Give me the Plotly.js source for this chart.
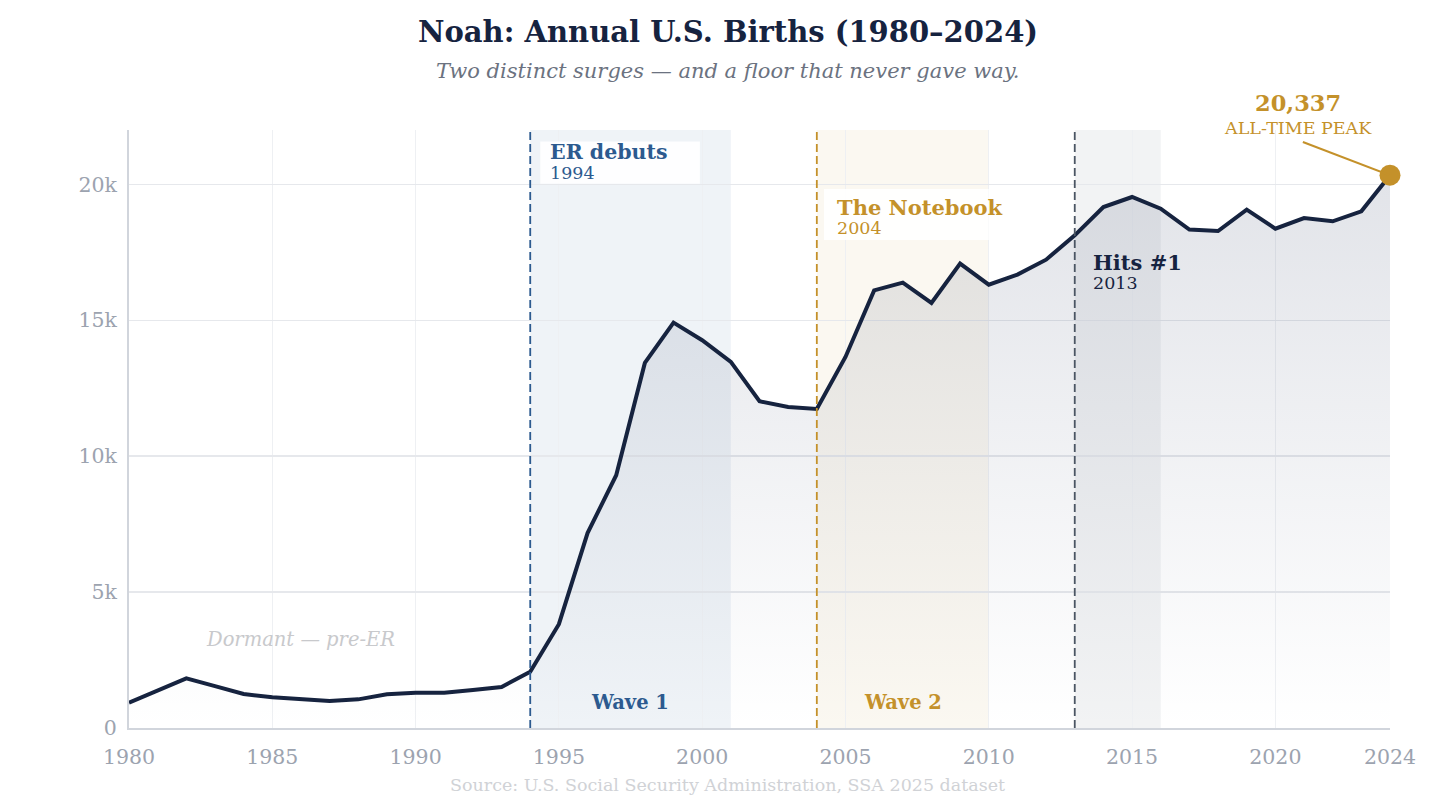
<!DOCTYPE html>
<html>
<head>
<meta charset="utf-8">
<script src="https://cdn.plot.ly/plotly-3.0.1.min.js"></script>
<style>
html,body{margin:0;padding:0;background:#fff;}
#chart{width:1456px;height:809px;}
</style>
</head>
<body>
<div id="chart"></div>
<script>
// ---- data ----
const years = [1980,1981,1982,1983,1984,1985,1986,1987,1988,1989,1990,1991,1992,1993,1994,1995,1996,1997,1998,1999,2000,2001,2002,2003,2004,2005,2006,2007,2008,2009,2010,2011,2012,2013,2014,2015,2016,2017,2018,2019,2020,2021,2022,2023,2024];
const births = [930,1380,1827,1540,1250,1128,1050,993,1054,1238,1299,1300,1400,1507,2070,3820,7170,9300,13430,14915,14265,13470,12020,11810,11740,13650,16100,16385,15640,17085,16310,16680,17230,18125,19165,19535,19105,18335,18285,19070,18370,18760,18640,19010,20337];
const xTickVals = [1980,1985,1990,1995,2000,2005,2010,2015,2020,2024];
const xTickText = ["1980","1985","1990","1995","2000","2005","2010","2015","2020","2024"];
const yTickVals = [0,5000,10000,15000,20000];
const yTickText = ["0","5k","10k","15k","20k"];
const bandStarts = [1994,2004,2013];
const bandEnds = [2001,2010,2016];
const eventYears = [1994,2004,2013];
const eventNames = ["ER debuts","The Notebook","Hits #1"];
const peakYear = 2024;
const peakValue = 20337;

const FONT = "DejaVu Serif";
const NAVY = "#16233f";
const BLUE = "#2c5a8f";
const GOLD = "#c4912a";
const SLATE = "#4b5563";

const traces = [
  {
    x: years, y: births, type: "scatter", mode: "lines",
    line: {color: NAVY, width: 4},
    fill: "tozeroy",
    fillgradient: {type: "vertical", start: 0, stop: peakValue,
      colorscale: [[0, "rgba(30,45,85,0.0)"], [1, "rgba(30,45,85,0.13)"]]},
    hoverinfo: "x+y", cliponaxis: false
  },
  {
    x: [peakYear], y: [peakValue], type: "scatter", mode: "markers",
    marker: {color: GOLD, size: 21}, cliponaxis: false, hoverinfo: "skip"
  }
];

const bandColors = ["rgba(44,90,143,0.075)", "rgba(196,145,42,0.065)", "rgba(75,85,99,0.07)"];
const lineColors = [BLUE, GOLD, SLATE];

const shapes = [];
for (let i = 0; i < bandStarts.length; i++) {
  shapes.push({type: "rect", xref: "x", yref: "paper", x0: bandStarts[i], x1: bandEnds[i], y0: 0, y1: 1,
    fillcolor: bandColors[i], line: {width: 0}, layer: "below"});
}
for (let i = 0; i < eventYears.length; i++) {
  shapes.push({type: "line", xref: "x", yref: "paper", x0: eventYears[i], x1: eventYears[i], y0: 0, y1: 1,
    line: {color: lineColors[i], width: 1.8, dash: "8px,4px"}, layer: "above"});
}
// label backing boxes
shapes.push({type: "rect", xref: "x", yref: "y", x0: 1994.35, x1: 1999.92, y0: 20020, y1: 21580,
  fillcolor: "rgba(255,255,255,0.9)", line: {width: 0}, layer: "above"});
shapes.push({type: "rect", xref: "x", yref: "y", x0: 2004.25, x1: 2010.0, y0: 17950, y1: 19830,
  fillcolor: "rgba(255,255,255,0.9)", line: {width: 0}, layer: "above"});
// peak leader line
shapes.push({type: "line", xref: "x", yref: "y", x0: 2020.96, y0: 21560, x1: peakYear, y1: peakValue,
  line: {color: GOLD, width: 2}, layer: "above"});

const annotations = [
  {xref: "paper", yref: "paper", x: 0.475, y: 1.0987, text: "<i>Two distinct surges — and a floor that never gave way.</i>",
    showarrow: false, font: {family: FONT, size: 21, color: "#6b7280"}, xanchor: "center", yanchor: "middle"},
  // event labels
  {x: 1994.65, y: 21180, xref: "x", yref: "y", text: "<b>" + eventNames[0] + "</b>", showarrow: false, xanchor: "left", yanchor: "middle",
    font: {family: FONT, size: 20.5, color: BLUE}, borderpad: 0},
  {x: 1994.65, y: 20420, xref: "x", yref: "y", text: String(eventYears[0]), showarrow: false, xanchor: "left", yanchor: "middle",
    font: {family: FONT, size: 17.5, color: BLUE}, borderpad: 0},
  {x: 2004.67, y: 19158, xref: "x", yref: "y", text: "<b>" + eventNames[1] + "</b>", showarrow: false, xanchor: "left", yanchor: "middle",
    font: {family: FONT, size: 21, color: GOLD}, borderpad: 0},
  {x: 2004.67, y: 18400, xref: "x", yref: "y", text: String(eventYears[1]), showarrow: false, xanchor: "left", yanchor: "middle",
    font: {family: FONT, size: 17.5, color: GOLD}, borderpad: 0},
  {x: 2013.6, y: 17136, xref: "x", yref: "y", text: "<b>" + eventNames[2] + "</b>", showarrow: false, xanchor: "left", yanchor: "middle",
    font: {family: FONT, size: 21, color: NAVY}, borderpad: 0},
  {x: 2013.6, y: 16377, xref: "x", yref: "y", text: String(eventYears[2]), showarrow: false, xanchor: "left", yanchor: "middle",
    font: {family: FONT, size: 17.5, color: NAVY}, borderpad: 0},
  // wave labels
  {x: 1997.48, y: 956, xref: "x", yref: "y", text: "<b>Wave 1</b>", showarrow: false,
    font: {family: FONT, size: 19.5, color: BLUE}},
  {x: 2007.0, y: 956, xref: "x", yref: "y", text: "<b>Wave 2</b>", showarrow: false,
    font: {family: FONT, size: 19.5, color: GOLD}},
  {x: 1986.0, y: 3272, xref: "x", yref: "y", text: "<i>Dormant — pre-ER</i>", showarrow: false,
    font: {family: FONT, size: 19.5, color: "#c8c9cc"}},
  // peak
  {x: 2020.79, y: 1.0452, xref: "x", yref: "paper", text: "<b>" + peakValue.toLocaleString("en-US") + "</b>", showarrow: false,
    font: {family: FONT, size: 22.5, color: GOLD}, yanchor: "middle"},
  {x: 2020.79, y: 1.0033, xref: "x", yref: "paper", text: "ALL-TIME PEAK", showarrow: false,
    font: {family: FONT, size: 17.5, color: GOLD}, yanchor: "middle"},
  // source
  {xref: "paper", yref: "paper", x: 0.475, y: -0.0953, text: "Source: U.S. Social Security Administration, SSA 2025 dataset",
    showarrow: false, font: {family: FONT, size: 17.5, color: "#d0d2d6"}, yanchor: "middle"}
];

const layout = {
  width: 1456, height: 809,
  margin: {l: 129, r: 66, t: 130, b: 81},
  paper_bgcolor: "#ffffff", plot_bgcolor: "#ffffff",
  showlegend: false,
  font: {family: FONT},
  title: {text: "<b>Noah: Annual U.S. Births (1980–2024)</b>", x: 0.5, xref: "container", y: 0.9604, yref: "container",
    yanchor: "middle", xanchor: "center", font: {family: FONT, size: 29, color: NAVY}},
  xaxis: {
    range: [1980, 2024], tickvals: xTickVals, ticktext: xTickText,
    showgrid: true, gridcolor: "#eef0f3", gridwidth: 1,
    showline: true, linecolor: "#d1d5dc", linewidth: 2,
    zeroline: false, ticks: "", ticklabelstandoff: 9,
    tickfont: {family: FONT, size: 20.5, color: "#9ca3af"}
  },
  yaxis: {
    range: [0, 22000], tickvals: yTickVals, ticktext: yTickText,
    showgrid: true, gridcolor: "#e6e8ec", gridwidth: 1.5,
    showline: true, linecolor: "#d1d5dc", linewidth: 2,
    zeroline: false, ticks: "", ticklabelstandoff: 6,
    tickfont: {family: FONT, size: 20.5, color: "#9ca3af"}
  },
  shapes: shapes,
  annotations: annotations
};

Plotly.newPlot("chart", traces, layout, {displayModeBar: false, staticPlot: true});
</script>
</body>
</html>
